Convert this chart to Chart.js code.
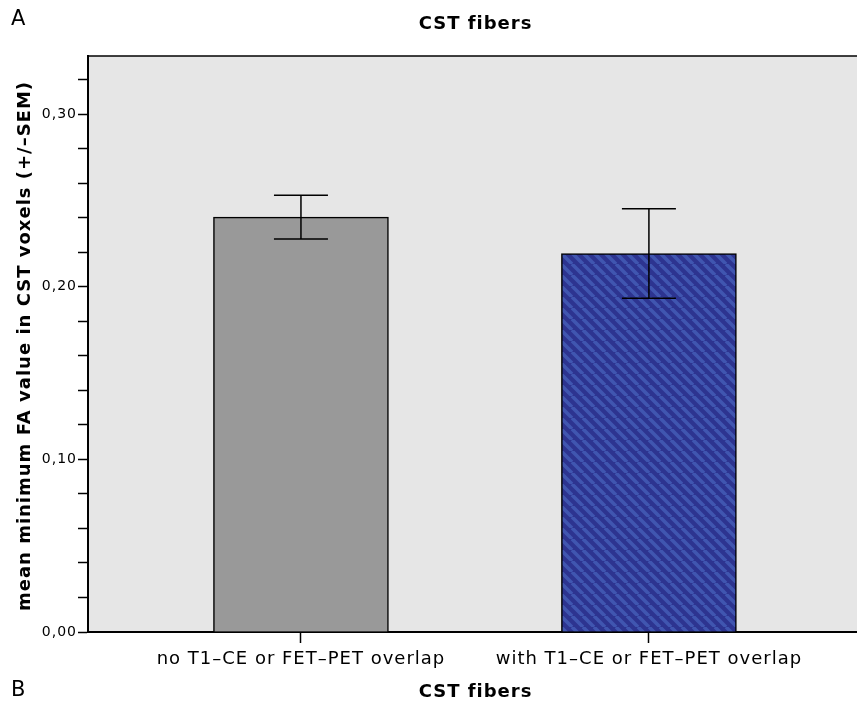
<!DOCTYPE html>
<html>
<head>
<meta charset="utf-8">
<script src="https://cdn.jsdelivr.net/npm/chart.js@4/dist/chart.umd.min.js"></script>
<style>
  html, body { margin: 0; padding: 0; background: #fff; }
  #wrap { width: 857px; height: 705px; position: relative; }
</style>
</head>
<body>
<div id="wrap"><canvas id="chart"></canvas></div>
<script>
// Data
const categories = ['no T1–CE or FET–PET overlap', 'with T1–CE or FET–PET overlap'];
const categoryPositions = [1, 2];
const meanFA = [0.2403, 0.2192];
const semFA = [0.0127, 0.0259];
const yTickLabels = [0, 0.1, 0.2, 0.3];

const FONT = '"DejaVu Sans", Verdana, sans-serif';

// diagonal stripe fill for the second bar
function makeHatch() {
    const c = document.createElement('canvas');
    c.width = 11; c.height = 11;
    const g = c.getContext('2d');
    g.fillStyle = '#2d3490';
    g.fillRect(0, 0, 11, 11);
    g.strokeStyle = '#4056b0';
    g.lineWidth = 3.6;
    g.beginPath();
    for (let k = -11; k <= 22; k += 11) {
        g.moveTo(k, 0);
        g.lineTo(k + 11, 11);
    }
    g.stroke();
    return g.createPattern(c, 'repeat');
}

const framePlugin = {
    id: 'frame',
    beforeInit(chart) {
        chart.ctx.letterSpacing = '1px';
    },
    beforeDraw(chart) {
        const { ctx, chartArea: a } = chart;
        ctx.letterSpacing = '1px';
        ctx.save();
        ctx.fillStyle = '#e6e6e6';
        ctx.fillRect(a.left, a.top, a.right - a.left, a.bottom - a.top);
        ctx.restore();
    },
    afterDraw(chart) {
        const { ctx, chartArea: a, scales } = chart;
        ctx.save();
        // top border
        ctx.strokeStyle = '#000';
        ctx.lineWidth = 1.5;
        ctx.beginPath();
        ctx.moveTo(a.left, a.top);
        ctx.lineTo(a.right, a.top);
        ctx.stroke();

        // error bars (+/- SEM)
        ctx.lineWidth = 1.5;
        meanFA.forEach((m, i) => {
            const x = scales.x.getPixelForValue(categoryPositions[i]);
            const yHi = scales.y.getPixelForValue(m + semFA[i]);
            const yLo = scales.y.getPixelForValue(m - semFA[i]);
            ctx.beginPath();
            ctx.moveTo(x, yHi); ctx.lineTo(x, yLo);
            ctx.moveTo(x - 27, yHi); ctx.lineTo(x + 27, yHi);
            ctx.moveTo(x - 27, yLo); ctx.lineTo(x + 27, yLo);
            ctx.stroke();
        });

        // titles and panel letters
        ctx.fillStyle = '#000';
        ctx.textBaseline = 'middle';
        ctx.textAlign = 'center';
        ctx.letterSpacing = '1px';
        ctx.font = 'bold 18px ' + FONT;
        const cx = (a.left + a.right) / 2 + 3;
        ctx.fillText('CST fibers', cx, 24);
        ctx.fillText('CST fibers', cx, 692);
        ctx.letterSpacing = '0px';
        ctx.font = '21px ' + FONT;
        ctx.textAlign = 'left';
        ctx.fillText('A', 11, 20);
        ctx.fillText('B', 11, 691);

        ctx.translate(25, 346);
        ctx.rotate(-Math.PI / 2);
        ctx.textAlign = 'center';
        ctx.letterSpacing = '1px';
        ctx.font = 'bold 18px ' + FONT;
        ctx.fillText('mean minimum FA value in CST voxels (+/–SEM)', 0, 0);
        ctx.restore();
    }
};

new Chart(document.getElementById('chart'), {
    type: 'bar',
    data: {
        datasets: [{
            data: categoryPositions.map((p, i) => ({ x: p, y: meanFA[i] })),
            backgroundColor: ['#999999', makeHatch()],
            borderColor: '#000',
            borderWidth: 1.5,
            borderSkipped: 'bottom',
            barThickness: 175
        }]
    },
    options: {
        responsive: true,
        maintainAspectRatio: false,
        animation: false,
        layout: { padding: { top: 56, right: 0, left: 0, bottom: 0 } },
        plugins: { legend: { display: false }, tooltip: { enabled: false }, title: { display: false } },
        scales: {
            x: {
                type: 'linear',
                offset: false,
                min: 0.388,
                max: 2.598,
                afterBuildTicks: s => { s.ticks = categoryPositions.map(v => ({ value: v })); },
                afterFit: s => { s.height = 73; },
                grid: { offset: false, drawOnChartArea: false, tickLength: 11, tickColor: '#000', tickWidth: 1.5 },
                border: { color: '#000', width: 2 },
                ticks: {
                    color: '#000',
                    font: { family: FONT, size: 18 },
                    padding: 6,
                    maxRotation: 0,
                    autoSkip: false,
                    callback: v => categories[categoryPositions.indexOf(v)] || ''
                }
            },
            y: {
                min: 0,
                max: 0.3336,
                afterBuildTicks: s => {
                    const t = [];
                    for (let k = 0; k <= 16; k++) t.push({ value: k * 0.02 });
                    s.ticks = t;
                },
                afterFit: s => { s.width = 88; },
                grid: { drawOnChartArea: false, tickLength: 10, tickColor: '#000', tickWidth: 1.5 },
                border: { color: '#000', width: 2 },
                ticks: {
                    color: '#000',
                    font: { family: FONT, size: 14 },
                    padding: 1,
                    autoSkip: false,
                    callback: v => {
                        const hit = yTickLabels.find(l => Math.abs(l - v) < 1e-6);
                        return hit === undefined ? '' : hit.toFixed(2).replace('.', ',');
                    }
                }
            }
        }
    },
    plugins: [framePlugin]
});
</script>
</body>
</html>
